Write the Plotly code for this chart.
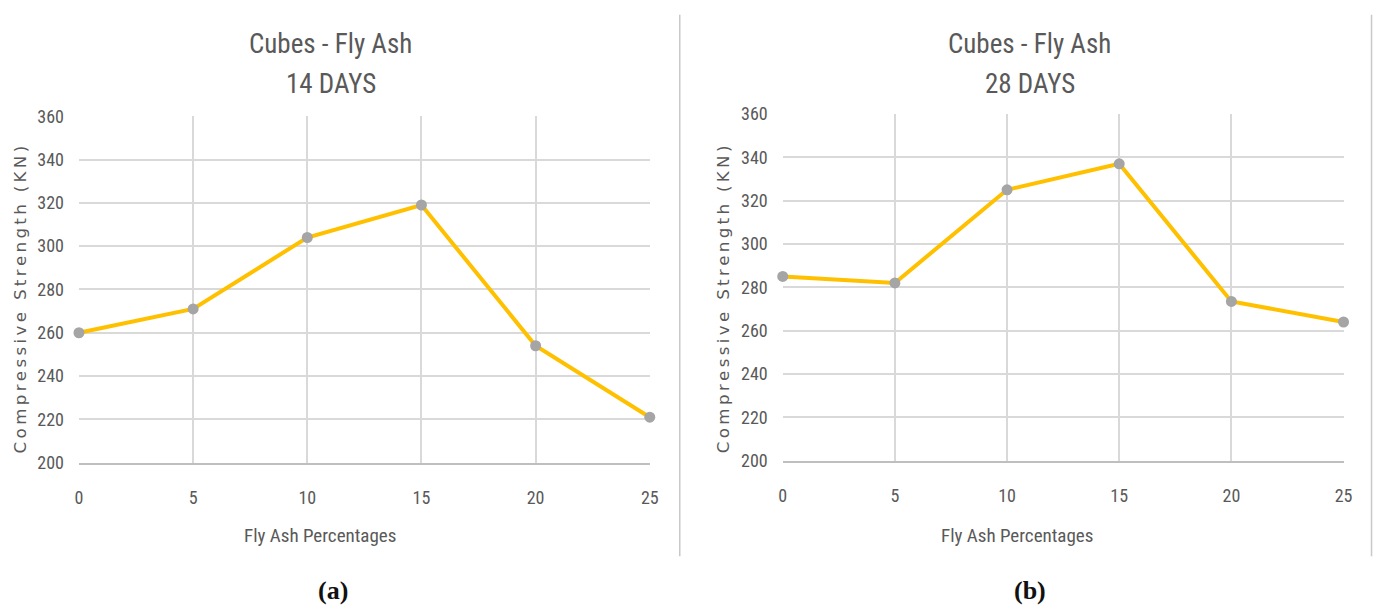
import plotly.graph_objects as go

# Fly ash replacement levels (%) and cube compressive strength (KN)
fly_ash_pct = [0, 5, 10, 15, 20, 25]
strength_14_days = [260, 271, 304, 319, 254, 221]
strength_28_days = [285, 282, 325, 337, 273.5, 264]
y_ticks = [200, 220, 240, 260, 280, 300, 320, 340, 360]
chart_title = "Cubes - Fly Ash"
panel_ages = ["14 DAYS", "28 DAYS"]
panel_labels = ["(a)", "(b)"]
y_title = "Compressive Strength (KN)"
x_title = "Fly Ash Percentages"

# Figure canvas and the mapping from on-screen pixel targets to canvas pixels
W, H = 1392, 630
SX, OX = 0.991, 4.0
SY, OY = 0.971, 8.3

LINE = "#FFC000"
MARK = "#A5A5A5"
GRID = "#D9D9D9"
TEXT = "#595959"
FONT = "Liberation Sans Narrow, Roboto Condensed, Roboto, sans-serif"


def px(x):
    """Screen x (pixels) -> paper fraction."""
    return ((x - OX) / SX) / W


def py(y):
    """Screen y (pixels, from top) -> paper fraction."""
    return 1 - ((y - OY) / SY) / H


def tracked(s):
    """Spread letters apart with thin spaces."""
    return "\u2009".join(s)


def label(text, x, y, size, family=FONT, color=TEXT, angle=0):
    fig.add_annotation(
        text=text, x=x, y=y, xref="paper", yref="paper", textangle=angle,
        showarrow=False, xanchor="center", yanchor="middle",
        font=dict(family=family, size=size, color=color),
    )


fig = go.Figure()

panels = [
    dict(x=(px(79), px(650)), y=(py(462), py(114)), data=strength_14_days,
         title_x=px(331), yt_x=px(20), xt_x=px(320), lab_x=px(333)),
    dict(x=(px(783), px(1344)), y=(py(460), py(111.7)), data=strength_28_days,
         title_x=px(1030), yt_x=px(724), xt_x=px(1017), lab_x=px(1030)),
]

layout = {}
for i, p in enumerate(panels):
    sx = "" if i == 0 else str(i + 1)
    fig.add_trace(go.Scatter(
        x=fly_ash_pct, y=p["data"], mode="lines+markers",
        line=dict(color=LINE, width=4),
        marker=dict(color=MARK, size=11),
        cliponaxis=False, showlegend=False,
        xaxis="x" + sx, yaxis="y" + sx,
    ))
    layout["xaxis" + sx] = dict(
        domain=list(p["x"]), anchor="y" + sx, range=[0, 25],
        tickvals=fly_ash_pct, showgrid=True, gridcolor=GRID, gridwidth=1.5,
        zeroline=False, showline=True, linecolor="#BFBFBF", linewidth=2,
        ticks="", ticklabelstandoff=18,
        tickfont=dict(family=FONT, size=18, color=TEXT),
    )
    layout["yaxis" + sx] = dict(
        domain=list(p["y"]), anchor="x" + sx, range=[200, 360],
        tickvals=y_ticks, showgrid=True, gridcolor=GRID, gridwidth=1.5,
        zeroline=False, showline=False, ticks="", ticklabelstandoff=14,
        tickfont=dict(family=FONT, size=18, color=TEXT),
    )
    label(chart_title, p["title_x"], py(41), 27)
    label(panel_ages[i], p["title_x"], py(82), 27)
    label(tracked(y_title), p["yt_x"], py(298), 16.7,
          family="DejaVu Sans, sans-serif", angle=-90)
    label(x_title, p["xt_x"], py(535), 19)
    label("<b>" + panel_labels[i] + "</b>", p["lab_x"], py(590), 26,
          family="Liberation Serif, Times New Roman, serif", color="#111111")

# Panel separators
for xpx in (680, 1372):
    fig.add_shape(type="line", xref="paper", yref="paper",
                  x0=px(xpx), x1=px(xpx), y0=py(556), y1=py(12),
                  line=dict(color="#C8C8C8", width=1.5))

fig.update_layout(
    width=W, height=H, autosize=False,
    margin=dict(l=0, r=0, t=0, b=0),
    paper_bgcolor="white", plot_bgcolor="white",
    **layout,
)

fig.write_html("out.html")
